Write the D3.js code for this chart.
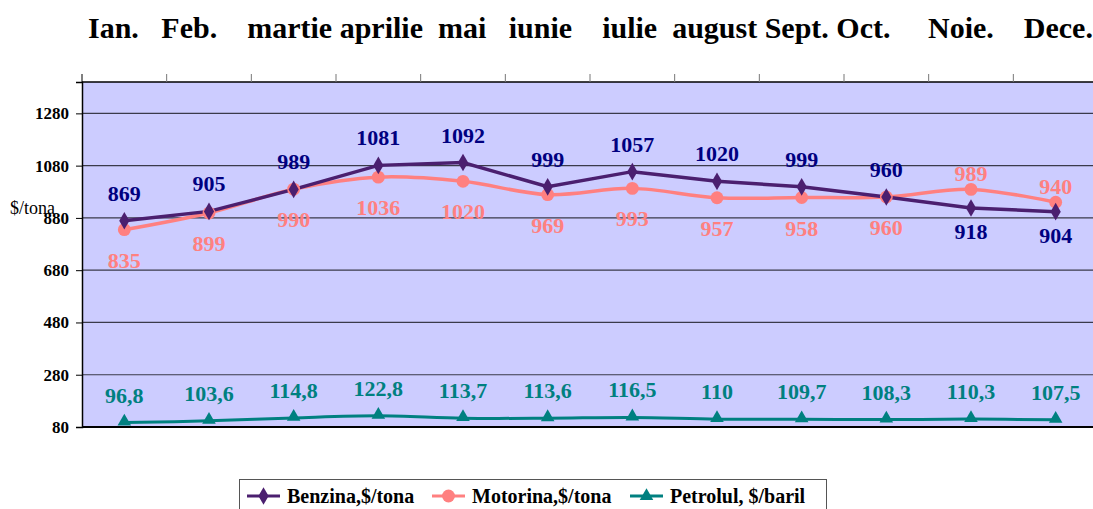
<!DOCTYPE html>
<html><head><meta charset="utf-8">
<script src="https://cdn.jsdelivr.net/npm/d3@7"></script>
<style>
body{margin:0;background:#fff;overflow:hidden}
svg{display:block;font-family:"Liberation Serif","Times New Roman",serif}
</style></head><body>
<svg id="c" width="1093" height="509"></svg>
<script>
// ---- data ----
const months = ["Ian.","Feb.","martie","aprilie","mai","iunie","iulie","august","Sept.","Oct.","Noie.","Dece."];
const benzina = [869,905,989,1081,1092,999,1057,1020,999,960,918,904];
const motorina = [835,899,990,1036,1020,969,993,957,958,960,989,940];
const petrol = [96.8,103.6,114.8,122.8,113.7,113.6,116.5,110,109.7,108.3,110.3,107.5];
const yTicks = [80,280,480,680,880,1080,1280];
const seriesNames = ["Benzina,$/tona","Motorina,$/tona","Petrolul, $/baril"];
const yTitle = "$/tona";
// month header as typed in the original text row
const monthRow = "Ian.   Feb.    martie aprilie  mai   iunie    iulie  august Sept. Oct.     Noie.    Dece.";
const benzinaSide = ["up","up","up","up","up","up","up","up","up","up","down","down"];
const motorinaSide = ["down","down","down","down","down","down","down","down","down","down","up","up"];

// ---- layout ----
const svg = d3.select("#c");
const W = 1093, H = 509;
const m = {left:82, top:82, right:-5, bottom:82};
const pw = W - m.left - m.right, ph = H - m.top - m.bottom;

const x = d3.scaleBand().domain(months).range([m.left, m.left + pw]);
const y = d3.scaleLinear().domain([80, 1400]).range([m.top + ph, m.top]);
const cx = (d, i) => x(months[i]) + x.bandwidth()/2;

// plot background
svg.append("rect").attr("x", m.left).attr("y", m.top).attr("width", pw).attr("height", ph)
  .attr("fill", "#CCCCFF");

// gridlines
svg.append("g").selectAll("line").data(yTicks.filter(t => t > 80)).join("line")
  .attr("x1", m.left).attr("x2", m.left + pw)
  .attr("y1", d => y(d)).attr("y2", d => y(d))
  .attr("stroke", "#3a3a4a").attr("stroke-width", 1.2);

// top border & top ticks (category boundaries)
svg.append("line").attr("x1", m.left).attr("x2", m.left + pw).attr("y1", m.top).attr("y2", m.top)
  .attr("stroke", "#000").attr("stroke-width", 1.5);
const bounds = months.map(d => x(d)).concat([m.left + pw]);
svg.append("g").selectAll("line").data(bounds).join("line")
  .attr("x1", d => d).attr("x2", d => d).attr("y1", m.top - 8).attr("y2", m.top)
  .attr("stroke", (d, i) => i === 0 ? "#000" : "#777").attr("stroke-width", 1);

// y axis
const yAxis = svg.append("g").attr("transform", `translate(${m.left},0)`)
  .call(d3.axisLeft(y).tickValues(yTicks).tickSize(6).tickPadding(7).tickFormat(d3.format("d")));
yAxis.select(".domain").attr("stroke", "#000").attr("stroke-width", 1.5);
yAxis.selectAll(".tick line").attr("stroke", "#000");
yAxis.selectAll("text").attr("font-family", "Liberation Serif, serif").attr("font-weight", "bold")
  .attr("font-size", 17).attr("fill", "#000");

// bottom line
svg.append("line").attr("x1", m.left).attr("x2", m.left + pw).attr("y1", y(80)).attr("y2", y(80))
  .attr("stroke", "#000").attr("stroke-width", 2);

// y title
svg.append("text").attr("x", 10).attr("y", 214).attr("font-size", 18).attr("fill", "#000").text(yTitle);

// month header row
svg.append("text").attr("x", 88).attr("y", 38).attr("xml:space", "preserve").style("white-space", "pre")
  .attr("font-size", 30).attr("font-weight", "bold").attr("fill", "#000").text(monthRow);

// series
const colBenz = "#4B1F6F", colMot = "#FF8080", colPet = "#008080";
const lineLin = d3.line().x((d, i) => cx(d, i)).y(d => y(d));
const lineSmooth = d3.line().x((d, i) => cx(d, i)).y(d => y(d)).curve(d3.curveCatmullRom.alpha(0));

svg.append("path").datum(petrol).attr("d", lineSmooth).attr("fill", "none").attr("stroke", colPet).attr("stroke-width", 3);
svg.append("path").datum(motorina).attr("d", lineSmooth).attr("fill", "none").attr("stroke", colMot).attr("stroke-width", 3.5);
svg.append("path").datum(benzina).attr("d", lineLin).attr("fill", "none").attr("stroke", colBenz).attr("stroke-width", 3.5);

const diamond = d3.symbol().type(d3.symbolDiamond).size(90);
const circle = d3.symbol().type(d3.symbolCircle).size(130);
const tri = d3.symbol().type(d3.symbolTriangle).size(80);

svg.append("g").selectAll("path").data(petrol).join("path")
  .attr("d", tri).attr("fill", colPet).attr("transform", (d, i) => `translate(${cx(d, i)},${y(d) - 1})`);
svg.append("g").selectAll("path").data(motorina).join("path")
  .attr("d", circle).attr("fill", colMot).attr("transform", (d, i) => `translate(${cx(d, i)},${y(d)})`);
svg.append("g").selectAll("path").data(benzina).join("path")
  .attr("d", diamond).attr("fill", colBenz).attr("transform", (d, i) => `translate(${cx(d, i)},${y(d)})`);

// data labels
const fmt = v => String(v).replace(".", ",");
function labels(data, color, sideArr, upOff, downOff) {
  svg.append("g").selectAll("text").data(data).join("text")
    .attr("x", (d, i) => cx(d, i))
    .attr("y", (d, i) => y(d) + ((sideArr ? sideArr[i] : "up") === "up" ? upOff : downOff))
    .attr("text-anchor", "middle").attr("font-size", 22).attr("font-weight", "bold")
    .attr("fill", color).text(fmt);
}
labels(benzina, "#000080", benzinaSide, -20, 31);
labels(motorina, "#FF8080", motorinaSide, -8, 38);
labels(petrol, "#008080", null, -20, 0);

// legend
const lg = svg.append("g");
lg.append("rect").attr("x", 239.5).attr("y", 479.5).attr("width", 587).attr("height", 40)
  .attr("fill", "#fff").attr("stroke", "#555").attr("stroke-width", 1);
const legItems = [
  {name: seriesNames[0], color: colBenz, sym: diamond, x0: 247},
  {name: seriesNames[1], color: colMot, sym: circle, x0: 432},
  {name: seriesNames[2], color: colPet, sym: tri, x0: 630}
];
const ly = 496;
legItems.forEach(it => {
  lg.append("line").attr("x1", it.x0).attr("x2", it.x0 + 33).attr("y1", ly).attr("y2", ly)
    .attr("stroke", it.color).attr("stroke-width", 3);
  lg.append("path").attr("d", it.sym).attr("fill", it.color)
    .attr("transform", `translate(${it.x0 + 16.5},${ly})`);
  lg.append("text").attr("x", it.x0 + 40).attr("y", ly + 7).attr("font-size", 20)
    .attr("font-weight", "bold").attr("fill", "#000").text(it.name);
});
</script>
</body></html>
